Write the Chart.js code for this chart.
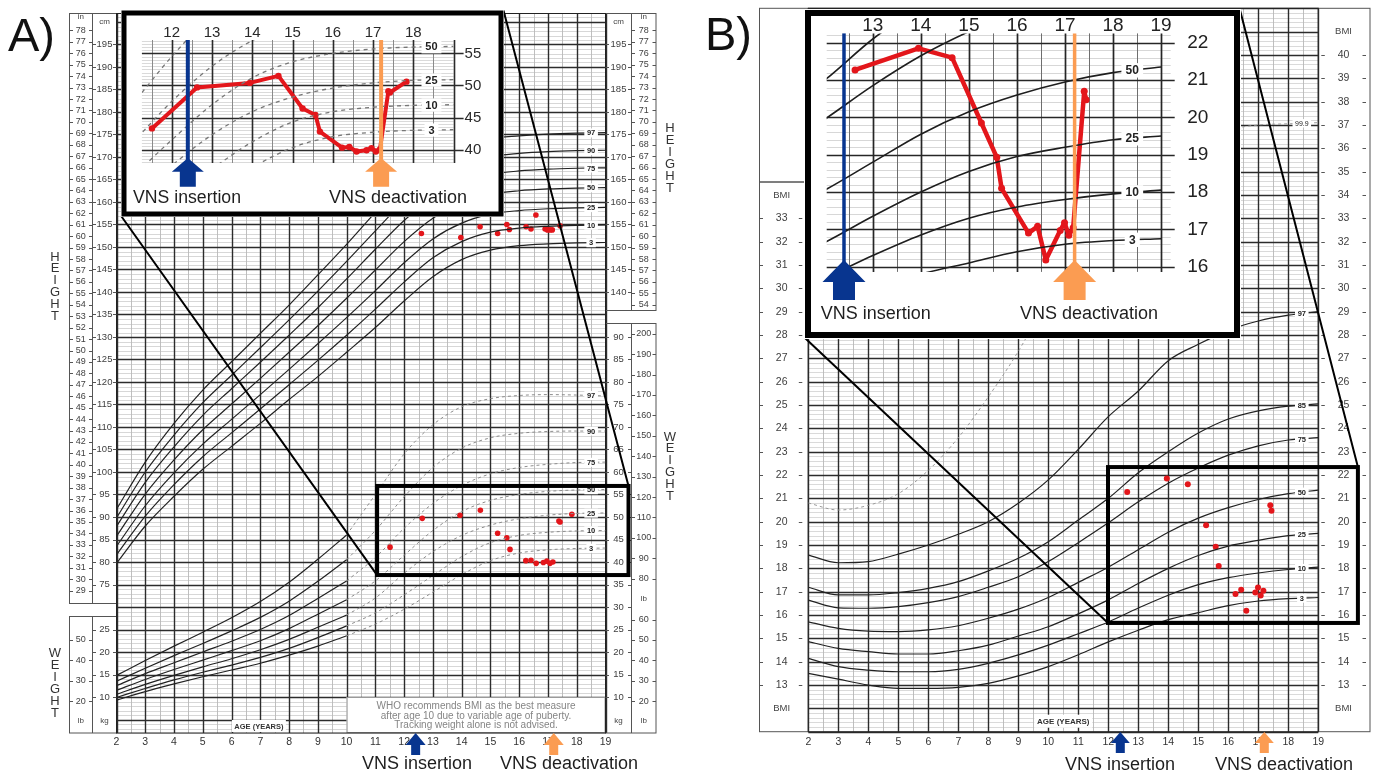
<!DOCTYPE html>
<html>
<head>
<meta charset="utf-8">
<script src="https://cdn.jsdelivr.net/npm/chart.js@4.4.0/dist/chart.umd.min.js"></script>
<style>
  html, body { margin: 0; padding: 0; background: #fff; }
  body { width: 1378px; height: 771px; position: relative; overflow: hidden; }
  canvas { position: absolute; }
  #mainA { left: 0; top: 0; }
  #mainB { left: 690px; top: 0; }
  #insetA { left: 121px; top: 10px; }
  #insetB { left: 804px; top: 9px; }
</style>
</head>
<body>
<canvas id="mainA" width="690" height="771"></canvas>
<canvas id="mainB" width="688" height="771"></canvas>
<canvas id="insetA" width="383" height="207"></canvas>
<canvas id="insetB" width="437" height="330"></canvas>
<script>
function range(a, b, s) { const r = []; for (let v = a; v <= b + 1e-9; v += s) r.push(+v.toFixed(2)); return r; }

// ---- percentile tables ----
const yearsAll = [2, 3, 4, 5, 6, 7, 8, 9, 10, 11, 12, 13, 14, 15, 16, 17, 18, 19];
const yearsYoung = [2, 3, 4, 5, 6, 7, 8, 9, 10];
const yearsOld = [10, 11, 12, 13, 14, 15, 16, 17, 18, 19];

// height for age, cm
const heightP3 = [79.7, 88.0, 94.6, 100.6, 105.7, 110.8, 116.1, 121.2, 126.6, 132.1, 138.0, 143.4, 147.2, 149.3, 150.3, 150.7, 150.9, 151.0];
const heightP10 = [81.6, 90.2, 97.2, 103.4, 108.7, 114.0, 119.4, 124.8, 130.4, 136.2, 142.2, 147.6, 151.2, 153.3, 154.2, 154.6, 154.8, 154.9];
const heightP25 = [83.5, 92.5, 99.8, 106.2, 111.7, 117.2, 122.8, 128.5, 134.3, 140.3, 146.5, 151.8, 155.3, 157.3, 158.1, 158.5, 158.7, 158.8];
const heightP50 = [85.7, 95.1, 102.7, 109.4, 115.1, 120.8, 126.6, 132.5, 138.6, 144.9, 151.2, 156.4, 159.8, 161.7, 162.5, 162.9, 163.1, 163.2];
const heightP75 = [87.9, 97.7, 105.6, 112.6, 118.5, 124.4, 130.4, 136.5, 142.9, 149.5, 155.9, 161.0, 164.3, 166.1, 166.9, 167.3, 167.5, 167.6];
const heightP90 = [89.8, 100.0, 108.2, 115.4, 121.5, 127.6, 133.8, 140.2, 146.8, 153.6, 160.2, 165.2, 168.4, 170.1, 170.8, 171.2, 171.4, 171.5];
const heightP97 = [91.7, 102.2, 110.8, 118.2, 124.5, 130.8, 137.1, 143.8, 150.6, 157.7, 164.4, 169.4, 172.4, 174.1, 174.7, 175.1, 175.3, 175.4];

// weight for age 2-10, kg (solid)
const weightYoungP3 = [9.3, 11.2, 12.9, 14.5, 16.0, 17.5, 19.3, 21.3, 23.6];
const weightYoungP10 = [9.9, 11.9, 13.8, 15.5, 17.1, 18.8, 20.8, 23.2, 25.8];
const weightYoungP25 = [10.6, 12.8, 14.8, 16.7, 18.5, 20.5, 22.8, 25.5, 28.2];
const weightYoungP50 = [11.5, 13.9, 16.1, 18.2, 20.3, 22.5, 25.2, 28.4, 31.6];
const weightYoungP75 = [12.5, 15.2, 17.6, 20.0, 22.4, 25.0, 28.1, 31.9, 35.8];
const weightYoungP90 = [13.5, 16.4, 19.2, 21.9, 24.7, 27.7, 31.3, 35.7, 40.5];
const weightYoungP97 = [14.8, 18.1, 21.3, 24.4, 27.6, 31.2, 35.5, 40.6, 46.0];

// weight 10-19, kg (dotted)
const weightOldP3 = [23.6, 26.2, 29.5, 33.3, 37.2, 40.3, 42.0, 42.7, 43.0, 43.1];
const weightOldP10 = [25.8, 28.7, 32.7, 37.0, 41.2, 44.3, 45.9, 46.6, 46.9, 47.0];
const weightOldP25 = [28.2, 32.0, 37.5, 42.3, 45.9, 48.2, 49.6, 50.4, 50.8, 50.9];
const weightOldP50 = [31.6, 35.8, 41.5, 47.0, 51.2, 53.7, 55.0, 55.7, 56.0, 56.1];
const weightOldP75 = [35.8, 41.0, 47.5, 53.0, 57.0, 59.6, 61.0, 61.7, 62.1, 62.2];
const weightOldP90 = [40.5, 47.0, 54.5, 61.0, 65.3, 67.6, 68.6, 69.0, 69.1, 69.1];
const weightOldP97 = [46.0, 55.0, 64.0, 70.5, 74.5, 76.3, 77.0, 77.2, 77.1, 76.9];

// BMI for age
const bmiP3 = [13.5, 13.25, 13.0, 12.86, 12.86, 12.9, 13.07, 13.39, 13.79, 14.3, 14.85, 15.35, 15.8, 16.1, 16.4, 16.6, 16.7, 16.75];
const bmiP10 = [14.14, 13.79, 13.64, 13.57, 13.57, 13.67, 13.93, 14.29, 14.71, 15.2, 15.7, 16.3, 16.85, 17.3, 17.6, 17.8, 17.95, 18.05];
const bmiP25 = [14.86, 14.57, 14.43, 14.33, 14.33, 14.47, 14.71, 15.1, 15.5, 16.05, 16.65, 17.35, 18.0, 18.55, 18.95, 19.2, 19.4, 19.5];
const bmiP50 = [15.71, 15.43, 15.31, 15.29, 15.36, 15.54, 15.86, 16.25, 16.75, 17.4, 18.05, 18.8, 19.55, 20.15, 20.6, 20.95, 21.2, 21.35];
const bmiP75 = [16.64, 16.31, 16.29, 16.36, 16.53, 16.79, 17.19, 17.64, 18.29, 19.1, 19.95, 20.85, 21.65, 22.3, 22.85, 23.25, 23.5, 23.6];
const bmiP85 = [17.19, 16.86, 16.86, 16.96, 17.14, 17.43, 17.89, 18.43, 19.14, 20.07, 21.0, 22.1, 23.0, 23.8, 24.4, 24.75, 24.95, 25.05];
const bmiP97 = [18.57, 18.24, 18.29, 18.61, 19.0, 19.46, 20.0, 20.79, 21.79, 23.1, 24.5, 25.6, 26.9, 27.6, 28.2, 28.6, 28.85, 29.0];
const bmiP999 = [20.8, 20.5, 20.7, 21.2, 22.2, 23.6, 25.35, 27.3, 29.6, 31.8, 33.6, 34.9, 35.8, 36.4, 36.8, 37.0, 37.05, 37.1];

// ---- patient measurements ----
const heightVisitAges = [12.6, 13.97, 14.64, 15.25, 15.57, 15.66, 16.24, 16.41, 16.58, 16.9, 16.98, 17.07, 17.15, 17.42];
const heightVisitCm = [153.0, 152.1, 154.5, 153.0, 155.0, 153.9, 154.5, 154.0, 157.1, 154.0, 153.8, 153.8, 153.8, 154.7];
const weightVisitAges = [11.51, 12.63, 13.94, 14.65, 15.25, 15.57, 15.68, 16.23, 16.41, 16.59, 16.84, 16.96, 17.07, 17.17, 17.38, 17.42, 17.83];
const weightVisitKg = [43.3, 49.7, 50.4, 51.5, 46.4, 45.4, 42.8, 40.3, 40.4, 39.7, 39.9, 40.2, 39.7, 40.0, 49.1, 48.9, 50.6];
const bmiVisitAges = [12.63, 13.95, 14.65, 15.26, 15.58, 15.68, 16.24, 16.43, 16.6, 16.9, 16.99, 17.08, 17.17, 17.4, 17.44];
const bmiVisitValues = [21.27, 21.85, 21.6, 19.85, 18.93, 18.1, 16.9, 17.08, 16.18, 16.97, 17.18, 16.84, 17.04, 20.7, 20.47];

const vnsInsertionAge = 12.4;
const vnsDeactivationAge = 17.2;

// ---- tick labels ----
const ageTicks = range(2, 19, 1);
const inchTicksLeft = range(29, 78, 1);
const cmTicksLeft = range(75, 195, 5);
const inchTicksRight = range(54, 78, 1);
const cmTicksRight = range(140, 195, 5);
const kgTicksRight = range(10, 90, 5);
const lbTicksRight = [20, 30, 40, 50, 60, 80, 90, 100, 110, 120, 130, 140, 150, 160, 170, 180, 190, 200];
const kgTicksLeft = [10, 15, 20, 25];
const lbTicksLeft = [20, 30, 40, 50];
const bmiTicksLeft = range(13, 33, 1);
const bmiTicksRight = range(13, 40, 1);
const insetATicks = [12, 13, 14, 15, 16, 17, 18];
const insetAKgTicks = [40, 45, 50, 55];
const insetBTicks = [13, 14, 15, 16, 17, 18, 19];
const insetBBmiTicks = [16, 17, 18, 19, 20, 21, 22];
const whoNote = ['WHO recommends BMI as the best measure', 'after age 10 due to variable age of puberty.', 'Tracking weight alone is not advised.'];

const FONT = '"Liberation Sans", Arial, sans-serif';
const RED = '#e3161b';
const BLUE = '#08358f';
const ORANGE = '#fb9c52';

function pts(xs, ys) { return xs.map((x, i) => ({ x: x, y: ys[i] })); }
function valueAt(xs, ys, x) {
  for (let i = 0; i < xs.length - 1; i++) {
    if (x >= xs[i] && x <= xs[i + 1]) return ys[i] + (x - xs[i]) / (xs[i + 1] - xs[i]) * (ys[i + 1] - ys[i]);
  }
  return ys[ys.length - 1];
}

function curve(xs, ys, yAxisID, extra) {
  return Object.assign({
    data: pts(xs, ys), yAxisID: yAxisID, borderColor: '#222', borderWidth: 1.2,
    pointRadius: 0, fill: false, cubicInterpolationMode: 'monotone'
  }, extra || {});
}
function dots(xs, ys, yAxisID, r) {
  return { data: pts(xs, ys), yAxisID: yAxisID, showLine: false, pointRadius: r, pointBackgroundColor: RED, pointBorderWidth: 0 };
}

function drawGrid(ctx, xs, ys, a, g) {
  const steps = (min, max, step) => { const out = []; for (let i = Math.ceil(min / step - 1e-6); i * step <= max + 1e-6; i++) out.push(+(i * step).toFixed(4)); return out; };
  const isMajor = (v, m) => Math.abs(v / m - Math.round(v / m)) < 1e-6;
  ctx.save();
  ctx.fillStyle = '#fff';
  ctx.fillRect(a.left, a.top, a.right - a.left, a.bottom - a.top);
  ctx.strokeStyle = g.minorH; ctx.lineWidth = g.minorHW; ctx.beginPath();
  steps(ys.min, ys.max, g.yMinor).forEach(v => {
    if (isMajor(v, g.yMajor)) return;
    const p = Math.round(ys.getPixelForValue(v)) + 0.5; ctx.moveTo(a.left, p); ctx.lineTo(a.right, p);
  });
  ctx.stroke();
  ctx.strokeStyle = g.minorV; ctx.lineWidth = g.minorVW; ctx.beginPath();
  steps(xs.min, xs.max, g.xMinor).forEach(v => {
    if (isMajor(v, g.xMajor)) return;
    const p = Math.round(xs.getPixelForValue(v)) + 0.5; ctx.moveTo(p, a.top); ctx.lineTo(p, a.bottom);
  });
  ctx.stroke();
  ctx.strokeStyle = g.major; ctx.lineWidth = g.majorW; ctx.beginPath();
  steps(ys.min, ys.max, g.yMajor).forEach(v => {
    const p = Math.round(ys.getPixelForValue(v)) + 0.5; ctx.moveTo(a.left, p); ctx.lineTo(a.right + (g.extendRight || 0), p);
  });
  steps(xs.min, xs.max, g.xMajor).forEach(v => {
    const p = Math.round(xs.getPixelForValue(v)) + 0.5; ctx.moveTo(p, a.top); ctx.lineTo(p, a.bottom);
  });
  ctx.stroke();
  ctx.restore();
}

function drawArrow(ctx, x, tip, base, bottom, head, stem, color) {
  ctx.save(); ctx.fillStyle = color; ctx.beginPath();
  ctx.moveTo(x, tip); ctx.lineTo(x + head, base); ctx.lineTo(x + stem, base); ctx.lineTo(x + stem, bottom);
  ctx.lineTo(x - stem, bottom); ctx.lineTo(x - stem, base); ctx.lineTo(x - head, base); ctx.closePath(); ctx.fill();
  ctx.restore();
}

function pctLabel(ctx, x, y, text, size, bold) {
  ctx.save();
  ctx.font = (bold ? 'bold ' : '') + size + 'px ' + FONT;
  const w = ctx.measureText(text).width;
  ctx.fillStyle = '#fff';
  ctx.fillRect(x - w / 2 - size * 0.35, y - size * 0.6, w + size * 0.7, size * 1.2);
  ctx.fillStyle = '#222'; ctx.textAlign = 'center'; ctx.textBaseline = 'middle';
  ctx.fillText(text, x, y + 0.5);
  ctx.restore();
}

function colLabels(ctx, scale, values, toValue, cx, left, right, top, bottom, size) {
  ctx.save();
  ctx.font = size + 'px ' + FONT; ctx.fillStyle = '#404040'; ctx.textAlign = 'center'; ctx.textBaseline = 'middle';
  ctx.strokeStyle = '#555'; ctx.lineWidth = 1;
  values.forEach(v => {
    const y = scale.getPixelForValue(toValue(v));
    if (y < top + 5 || y > bottom - 4) return;
    ctx.fillText(String(v), cx, y);
    const p = Math.round(y) + 0.5;
    ctx.beginPath(); ctx.moveTo(left, p); ctx.lineTo(left + 3.5, p); ctx.moveTo(right - 3.5, p); ctx.lineTo(right, p); ctx.stroke();
  });
  ctx.restore();
}

function plainText(ctx, text, x, y, size, color, align, maxW, weight) {
  ctx.save();
  ctx.font = (weight || '') + ' ' + size + 'px ' + FONT;
  ctx.fillStyle = color; ctx.textAlign = align || 'center'; ctx.textBaseline = 'middle';
  if (maxW) ctx.fillText(text, x, y, maxW); else ctx.fillText(text, x, y);
  ctx.restore();
}

function vertWord(ctx, word, x, y0, step) {
  word.split('').forEach((c, i) => plainText(ctx, c, x, y0 + i * step, 13, '#333'));
}

function vnsText(ctx, text, x, baseline, maxW) {
  ctx.save();
  ctx.font = '18px ' + FONT; ctx.fillStyle = '#1e1e1e'; ctx.textAlign = 'left'; ctx.textBaseline = 'alphabetic';
  ctx.fillText(text, x, baseline, maxW);
  ctx.restore();
}

const baseOptions = (padding, scales) => ({
  responsive: false, animation: false, devicePixelRatio: 1, events: [],
  layout: { padding: padding },
  scales: scales,
  plugins: { legend: { display: false }, tooltip: { enabled: false } }
});

// ================= PANEL A main =================
const heightTable = [['3', heightP3], ['10', heightP10], ['25', heightP25], ['50', heightP50], ['75', heightP75], ['90', heightP90], ['97', heightP97]];
const weightYoungTable = [weightYoungP3, weightYoungP10, weightYoungP25, weightYoungP50, weightYoungP75, weightYoungP90, weightYoungP97];
const weightOldTable = [['3', weightOldP3], ['10', weightOldP10], ['25', weightOldP25], ['50', weightOldP50], ['75', weightOldP75], ['90', weightOldP90], ['97', weightOldP97]];

const zoomBoxA = { ageFrom: 11.06, ageTo: 19.8, kgFrom: 37.1, kgTo: 56.9 };

const panelA = {
  id: 'panelA',
  beforeDatasetsDraw(chart) {
    const { ctx, chartArea: a, scales } = chart;
    const xs = scales.x, ys = scales.y, yw = scales.yw;
    drawGrid(ctx, xs, ys, a, {
      xMinor: 0.5, xMajor: 1, yMinor: 1, yMajor: 5,
      minorH: '#cdcdcd', minorHW: 0.8, minorV: '#b8b8b8', minorVW: 0.9, major: '#2c2c2c', majorW: 1.4
    });
    ctx.save();
    // note box
    const bx1 = xs.getPixelForValue(10), bx2 = xs.getPixelForValue(19), by1 = yw.getPixelForValue(10);
    ctx.fillStyle = '#fff'; ctx.fillRect(bx1, by1, bx2 - bx1, a.bottom - by1);
    ctx.strokeStyle = '#9a9a9a'; ctx.lineWidth = 1; ctx.strokeRect(bx1 + 0.5, by1 + 0.5, bx2 - bx1 - 1, a.bottom - by1 - 1);
    whoNote.forEach((line, i) => plainText(ctx, line, (bx1 + bx2) / 2, by1 + 9 + i * 9.8, 10, '#858585'));
    // AGE (YEARS)
    const ax = xs.getPixelForValue(6.95);
    ctx.fillStyle = '#fff'; ctx.fillRect(ax - 27, a.bottom - 13, 54, 12);
    plainText(ctx, 'AGE (YEARS)', ax, a.bottom - 6.5, 7.5, '#333', 'center', 50, 'bold');
    // label columns
    ctx.strokeStyle = '#555'; ctx.lineWidth = 1;
    ctx.strokeRect(69.5, a.top + 0.5, a.left - 69.5, 603 - a.top);
    ctx.strokeRect(69.5, 616.5, a.left - 69.5, a.bottom - 616.5);
    ctx.strokeRect(a.right, a.top + 0.5, 656 - a.right, 310 - a.top);
    ctx.strokeRect(a.right, 323.5, 656 - a.right, a.bottom - 323.5);
    ctx.beginPath();
    ctx.moveTo(92.5, a.top); ctx.lineTo(92.5, 603); ctx.moveTo(92.5, 616); ctx.lineTo(92.5, a.bottom);
    ctx.moveTo(631.5, a.top); ctx.lineTo(631.5, 310); ctx.moveTo(631.5, 323); ctx.lineTo(631.5, a.bottom);
    ctx.stroke();
    ctx.strokeStyle = '#222'; ctx.strokeRect(a.left, a.top + 0.5, a.right - a.left, a.bottom - a.top - 0.5);
    const inch = v => v * 2.54, lb = v => v / 2.20462, id = v => v;
    colLabels(ctx, ys, inchTicksLeft, inch, 80.8, 69.5, 92.5, a.top + 8, 603, 9);
    colLabels(ctx, ys, cmTicksLeft, id, 104.5, 92.5, a.left, a.top + 8, 603, 9.5);
    colLabels(ctx, yw, lbTicksLeft, lb, 80.8, 69.5, 92.5, 616, 714, 9);
    colLabels(ctx, yw, kgTicksLeft, id, 104.5, 92.5, a.left, 616, 714, 9.5);
    colLabels(ctx, ys, cmTicksRight, id, 618.5, a.right, 631.5, a.top + 8, 310, 9.5);
    colLabels(ctx, ys, inchTicksRight, inch, 643.8, 631.5, 656, a.top + 8, 310, 9);
    colLabels(ctx, yw, kgTicksRight, id, 618.5, a.right, 631.5, 323, 714, 9.5);
    colLabels(ctx, yw, lbTicksRight, lb, 643.8, 631.5, 656, 323, 714, 9);
    plainText(ctx, 'in', 80.8, 17, 8, '#444'); plainText(ctx, 'cm', 104.5, 21.5, 8, '#444');
    plainText(ctx, 'cm', 618.5, 21.5, 8, '#444'); plainText(ctx, 'in', 643.8, 17, 8, '#444');
    plainText(ctx, 'lb', 80.8, 721, 8, '#444'); plainText(ctx, 'kg', 104.5, 721, 8, '#444');
    plainText(ctx, 'kg', 618.5, 721, 8, '#444'); plainText(ctx, 'lb', 643.8, 721, 8, '#444');
    plainText(ctx, 'lb', 643.8, yw.getPixelForValue(lb(70)), 8, '#444');
    vertWord(ctx, 'HEIGHT', 55, 257, 11.8);
    vertWord(ctx, 'WEIGHT', 55, 653, 12);
    vertWord(ctx, 'HEIGHT', 670, 128, 12);
    vertWord(ctx, 'WEIGHT', 670, 437, 11.8);
    ageTicks.forEach(t => plainText(ctx, String(t), xs.getPixelForValue(t), 742.5, 10.5, '#333'));
    ctx.restore();
  },
  afterDatasetsDraw(chart) {
    const { ctx, scales } = chart;
    const xs = scales.x, ys = scales.y, yw = scales.yw;
    const lx = xs.getPixelForValue(18.5);
    heightTable.forEach(([name, vals]) => pctLabel(ctx, lx, ys.getPixelForValue(valueAt(yearsAll, vals, 18.5)), name, 7.5, true));
    weightOldTable.forEach(([name, vals]) => pctLabel(ctx, lx, yw.getPixelForValue(valueAt(yearsOld, vals, 18.5)), name, 7.5, true));
    ctx.save();
    const rx1 = xs.getPixelForValue(zoomBoxA.ageFrom), rx2 = xs.getPixelForValue(zoomBoxA.ageTo);
    const ry1 = yw.getPixelForValue(zoomBoxA.kgTo), ry2 = yw.getPixelForValue(zoomBoxA.kgFrom);
    ctx.strokeStyle = '#000'; ctx.lineWidth = 2;
    ctx.beginPath(); ctx.moveTo(121.5, 216.5); ctx.lineTo(rx1, ry2); ctx.moveTo(503.5, 10.5); ctx.lineTo(rx2, ry1); ctx.stroke();
    ctx.lineWidth = 4; ctx.strokeRect(rx1, ry1, rx2 - rx1, ry2 - ry1);
    ctx.restore();
    drawArrow(ctx, xs.getPixelForValue(vnsInsertionAge), 733, 745, 755, 10, 4.5, BLUE);
    drawArrow(ctx, xs.getPixelForValue(vnsDeactivationAge), 733, 745, 755, 10, 4.5, ORANGE);
    vnsText(ctx, 'VNS insertion', 362, 769, 110);
    vnsText(ctx, 'VNS deactivation', 500, 769, 146);
    ctx.save(); ctx.font = '47px ' + FONT; ctx.fillStyle = '#111'; ctx.fillText('A)', 8, 51); ctx.restore();
  }
};

const datasetsA = [];
heightTable.forEach(([, vals]) => datasetsA.push(curve(yearsAll, vals, 'y')));
weightYoungTable.forEach(vals => datasetsA.push(curve(yearsYoung, vals, 'yw')));
weightOldTable.forEach(([, vals]) => datasetsA.push(curve(yearsOld, vals, 'yw', { borderColor: '#8c8c8c', borderWidth: 1, borderDash: [3, 3] })));
datasetsA.push(dots(heightVisitAges, heightVisitCm, 'y', 2.8));
datasetsA.push(dots(weightVisitAges, weightVisitKg, 'yw', 2.8));

new Chart(document.getElementById('mainA'), {
  type: 'line',
  data: { datasets: datasetsA },
  options: baseOptions({ left: 116.5, right: 84.5, top: 13, bottom: 38 }, {
    x: { type: 'linear', min: 2, max: 19, display: false },
    y: { type: 'linear', min: 42, max: 202, display: false },
    yw: { type: 'linear', min: 2, max: 162, display: false }
  }),
  plugins: [panelA]
});

// ================= PANEL A inset =================
const insetAPlugin = {
  id: 'insetA',
  beforeDatasetsDraw(chart) {
    const { ctx, chartArea: a, scales } = chart;
    const xs = scales.x, ys = scales.y;
    ctx.save(); ctx.fillStyle = '#fff'; ctx.fillRect(0, 0, chart.width, chart.height); ctx.restore();
    drawGrid(ctx, xs, ys, a, {
      xMinor: 0.5, xMajor: 1, yMinor: 0.5, yMajor: 5, extendRight: 10,
      minorH: '#d6d6d6', minorHW: 0.9, minorV: '#8a8a8a', minorVW: 1, major: '#2a2a2a', majorW: 1.6
    });
    insetATicks.forEach(t => plainText(ctx, String(t), xs.getPixelForValue(t), 23, 15, '#2a2a2a'));
    insetAKgTicks.forEach(t => plainText(ctx, String(t), a.right + 11, ys.getPixelForValue(t), 15, '#2a2a2a', 'left'));
  },
  afterDatasetsDraw(chart) {
    const { ctx, chartArea: a, scales } = chart;
    const xs = scales.x, ys = scales.y;
    const lx = xs.getPixelForValue(18.45);
    weightOldTable.forEach(([name, vals]) => {
      const v = valueAt(yearsOld, vals, 18.45);
      if (v > ys.min && v < ys.max) pctLabel(ctx, lx, ys.getPixelForValue(v), name, 11, true);
    });
    [[vnsInsertionAge, BLUE], [vnsDeactivationAge, ORANGE]].forEach(([age, col]) => {
      const x = xs.getPixelForValue(age);
      ctx.save(); ctx.strokeStyle = col; ctx.lineWidth = 4;
      ctx.beginPath(); ctx.moveTo(x, a.top); ctx.lineTo(x, 150); ctx.stroke(); ctx.restore();
      drawArrow(ctx, x, 148, 161.7, 176.7, 16, 8, col);
    });
    vnsText(ctx, 'VNS insertion', 12, 193, 108);
    vnsText(ctx, 'VNS deactivation', 208, 193, 146);
    ctx.save(); ctx.strokeStyle = '#000'; ctx.lineWidth = 5; ctx.strokeRect(3, 3, chart.width - 6, chart.height - 6); ctx.restore();
  }
};

const datasetsInsetA = weightOldTable.map(([, vals]) => curve(yearsOld, vals, 'y', { borderColor: '#777', borderWidth: 1.3, borderDash: [4, 4] }));
datasetsInsetA.push({
  data: pts(weightVisitAges, weightVisitKg), yAxisID: 'y', borderColor: RED, borderWidth: 4, tension: 0,
  pointRadius: 3.2, pointBackgroundColor: RED, pointBorderWidth: 0, fill: false, borderJoinStyle: 'round', borderCapStyle: 'round'
});

new Chart(document.getElementById('insetA'), {
  type: 'line',
  data: { datasets: datasetsInsetA },
  options: baseOptions({ left: 20.9, right: 50.4, top: 30, bottom: 54 }, {
    x: { type: 'linear', min: 11.26, max: 19, display: false },
    y: { type: 'linear', min: 37.9, max: 57.1, display: false }
  }),
  plugins: [insetAPlugin]
});

// ================= PANEL B main =================
const bmiTable = [['3', bmiP3], ['10', bmiP10], ['25', bmiP25], ['50', bmiP50], ['75', bmiP75], ['85', bmiP85], ['97', bmiP97]];
const zoomBoxB = { ageFrom: 11.99, ageTo: 20.32, bmiFrom: 15.66, bmiTo: 22.34 };

const panelB = {
  id: 'panelB',
  beforeDatasetsDraw(chart) {
    const { ctx, chartArea: a, scales } = chart;
    const xs = scales.x, ys = scales.y;
    drawGrid(ctx, xs, ys, a, {
      xMinor: 0.5, xMajor: 1, yMinor: 0.2, yMajor: 1,
      minorH: '#d0d0d0', minorHW: 0.8, minorV: '#b8b8b8', minorVW: 0.9, major: '#2c2c2c', majorW: 1.4
    });
    ctx.save();
    const ax = xs.getPixelForValue(10.5);
    ctx.fillStyle = '#fff'; ctx.fillRect(ax - 29, a.bottom - 17, 58, 13);
    plainText(ctx, 'AGE (YEARS)', ax, a.bottom - 10, 8, '#333', 'center', 55, 'bold');
    ctx.strokeStyle = '#555'; ctx.lineWidth = 1;
    ctx.strokeRect(69.5, a.top, a.left - 69.5, 182 - a.top);
    ctx.strokeRect(69.5, 182, a.left - 69.5, a.bottom - 182);
    ctx.strokeRect(a.right, a.top, 680 - a.right, a.bottom - a.top);
    ctx.strokeStyle = '#222'; ctx.strokeRect(a.left, a.top, a.right - a.left, a.bottom - a.top);
    const id = v => v;
    colLabels(ctx, ys, bmiTicksLeft, id, 91.7, 69.5, a.left - 6, 182, a.bottom, 10.5);
    colLabels(ctx, ys, bmiTicksRight, id, 653.5, a.right + 3, 676, a.top, a.bottom, 10.5);
    plainText(ctx, 'BMI', 91.7, ys.getPixelForValue(34), 9.5, '#454545');
    plainText(ctx, 'BMI', 91.7, ys.getPixelForValue(12), 9.5, '#454545');
    plainText(ctx, 'BMI', 653.5, ys.getPixelForValue(41), 9.5, '#454545');
    plainText(ctx, 'BMI', 653.5, ys.getPixelForValue(12), 9.5, '#454545');
    ageTicks.forEach(t => plainText(ctx, String(t), xs.getPixelForValue(t), 742.5, 10.5, '#333'));
    ctx.restore();
  },
  afterDatasetsDraw(chart) {
    const { ctx, scales } = chart;
    const xs = scales.x, ys = scales.y;
    const lx = xs.getPixelForValue(18.45);
    bmiTable.forEach(([name, vals]) => pctLabel(ctx, lx, ys.getPixelForValue(valueAt(yearsAll, vals, 18.45)), name, 7.5, true));
    pctLabel(ctx, lx, ys.getPixelForValue(valueAt(yearsAll, bmiP999, 18.45)), '99.9', 7, false);
    ctx.save();
    const rx1 = xs.getPixelForValue(zoomBoxB.ageFrom), rx2 = xs.getPixelForValue(zoomBoxB.ageTo);
    const ry1 = ys.getPixelForValue(zoomBoxB.bmiTo), ry2 = ys.getPixelForValue(zoomBoxB.bmiFrom);
    ctx.strokeStyle = '#000'; ctx.lineWidth = 2;
    ctx.beginPath(); ctx.moveTo(115, 338); ctx.lineTo(rx1, ry2); ctx.moveTo(550, 10); ctx.lineTo(rx2, ry1); ctx.stroke();
    ctx.lineWidth = 4; ctx.strokeRect(rx1, ry1, rx2 - rx1, ry2 - ry1);
    ctx.restore();
    drawArrow(ctx, xs.getPixelForValue(vnsInsertionAge), 732, 743, 753, 9.5, 4.5, BLUE);
    drawArrow(ctx, xs.getPixelForValue(vnsDeactivationAge), 732, 743, 753, 9.5, 4.5, ORANGE);
    vnsText(ctx, 'VNS insertion', 375, 769.5, 113);
    vnsText(ctx, 'VNS deactivation', 525, 769.5, 155);
    ctx.save(); ctx.font = '47px ' + FONT; ctx.fillStyle = '#111'; ctx.fillText('B)', 15, 50); ctx.restore();
  }
};

const datasetsB = bmiTable.map(([, vals]) => curve(yearsAll, vals, 'y'));
datasetsB.push(curve(yearsAll, bmiP999, 'y', { borderColor: '#9a9a9a', borderWidth: 1, borderDash: [3, 3] }));
datasetsB.push(dots(bmiVisitAges, bmiVisitValues, 'y', 3));

new Chart(document.getElementById('mainB'), {
  type: 'line',
  data: { datasets: datasetsB },
  options: baseOptions({ left: 118.3, right: 59.7, top: 8.3, bottom: 39.3 }, {
    x: { type: 'linear', min: 2, max: 19, display: false },
    y: { type: 'linear', min: 11, max: 42, display: false }
  }),
  plugins: [panelB]
});

// ================= PANEL B inset =================
const insetBPlugin = {
  id: 'insetB',
  beforeDatasetsDraw(chart) {
    const { ctx, chartArea: a, scales } = chart;
    const xs = scales.x, ys = scales.y;
    ctx.save(); ctx.fillStyle = '#fff'; ctx.fillRect(0, 0, chart.width, chart.height); ctx.restore();
    drawGrid(ctx, xs, ys, a, {
      xMinor: 0.5, xMajor: 1, yMinor: 0.2, yMajor: 1, extendRight: 4,
      minorH: '#d2d2d2', minorHW: 0.9, minorV: '#6e6e6e', minorVW: 1, major: '#262626', majorW: 1.7
    });
    insetBTicks.forEach(t => plainText(ctx, String(t), xs.getPixelForValue(t), 17, 19, '#222'));
    insetBBmiTicks.forEach(t => plainText(ctx, String(t), a.right + 27, ys.getPixelForValue(t), 19, '#222'));
  },
  afterDatasetsDraw(chart) {
    const { ctx, chartArea: a, scales } = chart;
    const xs = scales.x, ys = scales.y;
    const lx = xs.getPixelForValue(18.4);
    [['3', bmiP3], ['10', bmiP10], ['25', bmiP25], ['50', bmiP50]].forEach(([name, vals]) =>
      pctLabel(ctx, lx, ys.getPixelForValue(valueAt(yearsAll, vals, 18.4)), name, 12, true));
    [[vnsInsertionAge, BLUE], [vnsDeactivationAge, ORANGE]].forEach(([age, col]) => {
      const x = xs.getPixelForValue(age);
      ctx.save(); ctx.strokeStyle = col; ctx.lineWidth = 3.5;
      ctx.beginPath(); ctx.moveTo(x, a.top); ctx.lineTo(x, 253); ctx.stroke(); ctx.restore();
      drawArrow(ctx, x, 251, 273, 291, 21.5, 11, col);
    });
    vnsText(ctx, 'VNS insertion', 16.7, 310, 113);
    vnsText(ctx, 'VNS deactivation', 216, 310, 147);
    ctx.save(); ctx.strokeStyle = '#000'; ctx.lineWidth = 6; ctx.strokeRect(4, 4, chart.width - 8, chart.height - 8); ctx.restore();
  }
};

const datasetsInsetB = [bmiP3, bmiP10, bmiP25, bmiP50, bmiP75, bmiP85].map(vals => curve(yearsAll, vals, 'y', { borderColor: '#1e1e1e', borderWidth: 1.6 }));
datasetsInsetB.push({
  data: pts(bmiVisitAges, bmiVisitValues), yAxisID: 'y', borderColor: RED, borderWidth: 4.5, tension: 0,
  pointRadius: 3.5, pointBackgroundColor: RED, pointBorderWidth: 0, fill: false, borderJoinStyle: 'round', borderCapStyle: 'round'
});

new Chart(document.getElementById('insetB'), {
  type: 'line',
  data: { datasets: datasetsInsetB },
  options: baseOptions({ left: 22.7, right: 70.3, top: 24.4, bottom: 67.1 }, {
    x: { type: 'linear', min: 12.04, max: 19.2, display: false },
    y: { type: 'linear', min: 15.86, max: 22.25, display: false }
  }),
  plugins: [insetBPlugin]
});
</script>
</body>
</html>
